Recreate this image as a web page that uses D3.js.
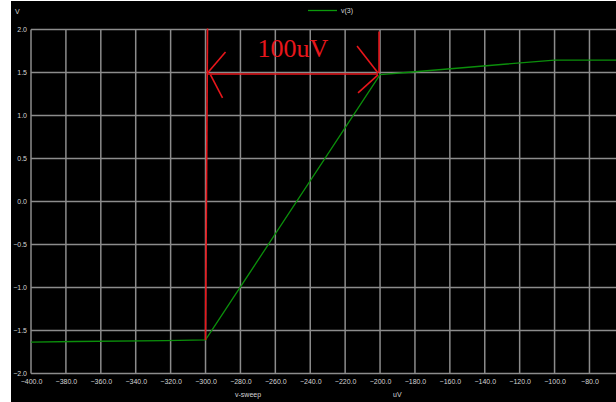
<!DOCTYPE html>
<html>
<head>
<meta charset="utf-8">
<script src="https://cdn.jsdelivr.net/npm/d3@7/dist/d3.min.js"></script>
<style>
  html, body { margin: 0; padding: 0; background: #ffffff; }
  svg { display: block; }
</style>
</head>
<body>
<svg id="chart" width="616" height="402"></svg>
<script>
// v(3) against the input sweep (uV)
const sweepUV = [-400, -375, -323, -300, -200, -185, -100, -60];
const v3 = [-1.635, -1.628, -1.618, -1.61, 1.475, 1.50, 1.645, 1.645];

const xTicks = [-400, -380, -360, -340, -320, -300, -280, -260, -240, -220, -200, -180, -160, -140, -120, -100, -80];
const yTicks = [-2.0, -1.5, -1.0, -0.5, 0.0, 0.5, 1.0, 1.5, 2.0];

// Span marked on the plot
const spanStart = -300, spanEnd = -200, spanLevel = 1.483, spanLabel = "100uV";

const svg = d3.select("#chart");
const W = 616, H = 402;

// black scope background
svg.append("rect").attr("x", 11).attr("y", 1).attr("width", W - 11).attr("height", H - 1).attr("fill", "#000");

const x = d3.scaleLinear().domain([-400, -64.8]).range([31, 616]);
const y = d3.scaleLinear().domain([-2, 2]).range([373.5, 29.5]);

const gridColor = "#8c8c8c";
const labelColor = "#d4d4d4";

// grid
const grid = svg.append("g");
grid.selectAll("line.h").data(yTicks).join("line")
  .attr("x1", x(-400)).attr("x2", W)
  .attr("y1", d => y(d)).attr("y2", d => y(d))
  .attr("stroke", gridColor).attr("stroke-width", 1.5);
grid.selectAll("line.v").data(xTicks).join("line")
  .attr("x1", d => x(d)).attr("x2", d => x(d))
  .attr("y1", y(2)).attr("y2", y(-2))
  .attr("stroke", gridColor).attr("stroke-width", 1.5);

// axes (labels only, grid draws the lines)
const xAxis = d3.axisBottom(x).tickValues(xTicks).tickFormat(d3.format(".1f")).tickSize(0).tickPadding(6);
const gx = svg.append("g").attr("transform", `translate(0,${y(-2)})`).call(xAxis);
gx.select(".domain").remove();
gx.selectAll("text").attr("fill", labelColor).style("font-family", "Arial, 'Liberation Sans', sans-serif").style("font-size", "7px");

const yAxis = d3.axisLeft(y).tickValues(yTicks).tickFormat(d3.format(".1f")).tickSize(0).tickPadding(4);
const gy = svg.append("g").attr("transform", `translate(${x(-400)},0)`).call(yAxis);
gy.select(".domain").remove();
gy.selectAll("text").attr("fill", labelColor).style("font-family", "Arial, 'Liberation Sans', sans-serif").style("font-size", "7px");

// axis titles
const small = { "font-family": "Arial, 'Liberation Sans', sans-serif", "font-size": "7px", fill: labelColor };
function addText(tx, ty, str, anchor) {
  const t = svg.append("text").attr("x", tx).attr("y", ty).attr("text-anchor", anchor || "start").text(str);
  Object.entries(small).forEach(([k, v]) => t.attr(k, v));
  return t;
}
addText(15, 14, "V");
addText(235, 397, "v-sweep");
addText(393, 397, "uV");

// legend
svg.append("line").attr("x1", 308).attr("x2", 337).attr("y1", 10.5).attr("y2", 10.5)
  .attr("stroke", "#0c9a0c").attr("stroke-width", 1.3);
addText(341, 13, "v(3)");

// trace
const line = d3.line().x((d, i) => x(sweepUV[i])).y(d => y(d));
svg.append("path").datum(v3).attr("d", line)
  .attr("fill", "none").attr("stroke", "#0b8f0b").attr("stroke-width", 1.3);

// span annotation
const red = "#e8161b";
const ann = svg.append("g").attr("stroke", red).attr("stroke-width", 1.6).attr("fill", "none");
const xs = x(spanStart), xe = x(spanEnd), ya = y(spanLevel);
ann.append("line").attr("x1", xs + 2).attr("x2", xs).attr("y1", y(2) - 1).attr("y2", y(v3[sweepUV.indexOf(spanStart)]));
ann.append("line").attr("x1", xe - 1).attr("x2", xe - 1).attr("y1", y(2) + 2).attr("y2", y(1.5));
ann.append("line").attr("x1", xs + 2).attr("x2", xe - 2).attr("y1", ya).attr("y2", ya);
// arrowheads
ann.append("line").attr("x1", xs + 2).attr("y1", ya - 1).attr("x2", xs + 20).attr("y2", ya - 22);
ann.append("line").attr("x1", xs + 5).attr("y1", ya + 1).attr("x2", xs + 17).attr("y2", ya + 24);
ann.append("line").attr("x1", xe - 2).attr("y1", ya - 1).attr("x2", xe - 23).attr("y2", ya - 28);
ann.append("line").attr("x1", xe - 2).attr("y1", ya + 1).attr("x2", xe - 22).attr("y2", ya + 19);

svg.append("text").attr("x", (xs + xe) / 2).attr("y", 57).attr("text-anchor", "middle")
  .attr("fill", red).style("font-family", "'Liberation Serif', 'Times New Roman', serif").style("font-size", "26px")
  .text(spanLabel);
</script>
</body>
</html>
